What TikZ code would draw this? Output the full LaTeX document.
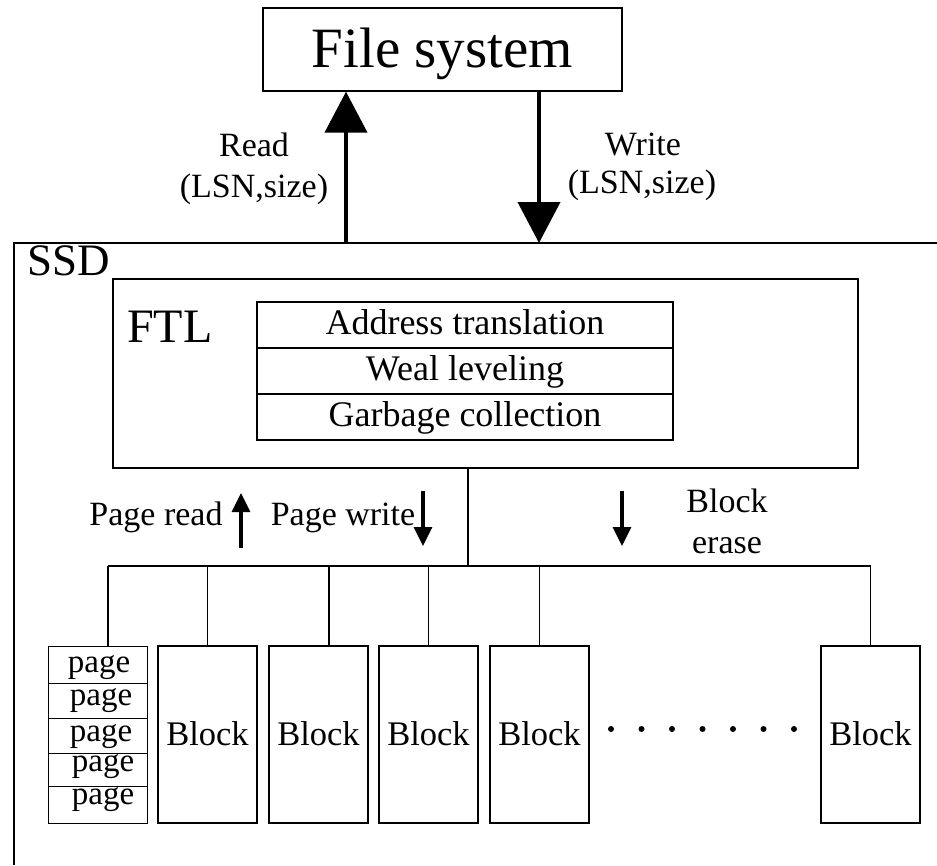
\documentclass[tikz,border=0pt]{standalone}
\usepackage{fontspec}
\setmainfont{Liberation Serif}
\usetikzlibrary{arrows.meta}
\begin{document}
\begin{tikzpicture}[x=1pt,y=-1pt,
  edge/.style={line width=1.3pt},
  box/.style={draw, line width=1.3pt, inner sep=0pt},
  lbl/.style={inner sep=0pt, anchor=base, font=\fontsize{34}{36}\selectfont},
  bigarrow/.style={line width=4pt, -{Triangle[width=42pt,length=41pt]}},
  smallarrow/.style={line width=3.2pt, -{Triangle[width=18pt,length=19pt]}},
  layer/.style={box, minimum width=416pt, minimum height=46pt,
    font=\fontsize{36}{38}\selectfont, text height=24.8pt, text depth=5pt},
  blockbox/.style={box, minimum width=99pt, minimum height=177pt,
    font=\fontsize{34.5}{36}\selectfont, text height=22pt, text depth=0pt},
  pagerow/.style={box, anchor=north west, minimum width=99pt},
  pagetext/.style={lbl, font=\fontsize{33}{35}\selectfont}
]
\useasboundingbox (0,0) rectangle (937,865);

% host side
\node[box, minimum width=359pt, minimum height=83pt,
  font=\fontsize{57}{60}\selectfont, text height=40pt, text depth=5pt]
  (fs) at (442.5,49.5) {File system};

% SSD enclosure (open to the right and bottom)
\draw[edge] (937,243) -- (14,243) -- (14,865);
\node[inner sep=0pt, anchor=base west, font=\fontsize{45}{47}\selectfont]
  (ssd) at (27,275) {SSD};

% host requests
\coordinate (rd) at (346,243);
\coordinate (wr) at (539,243);
\draw[bigarrow] (rd) -- (rd |- fs.south);
\draw[bigarrow] (wr |- fs.south) -- (wr);
\node[lbl] (rdA) at (254,156) {Read};
\node[lbl] (rdB) at (254,197) {(LSN,size)};
\node[lbl] (wrA) at (643,155) {Write};
\node[lbl] (wrB) at (642,193) {(LSN,size)};

% flash translation layer
\node[box, minimum width=745pt, minimum height=189pt] (ftl) at (485.5,373.5) {};
\node[inner sep=0pt, anchor=base west, font=\fontsize{48}{50}\selectfont]
  (ftlname) at (127,342) {FTL};
\node[layer] (t1) at (465,325) {Address translation};
\node[layer] (t2) at (465,371) {Weal leveling};
\node[layer] (t3) at (465,417) {Garbage collection};

% flash operations
\coordinate (prA) at (241,548);
\coordinate (prB) at (241,493);
\coordinate (pwA) at (423,491);
\coordinate (pwB) at (423,546);
\coordinate (beA) at (622,491);
\coordinate (beB) at (622,546);
\draw[smallarrow] (prA) -- (prB);
\draw[smallarrow] (pwA) -- (pwB);
\draw[smallarrow] (beA) -- (beB);
\node[lbl] (prd) at (156,525) {Page read};
\node[lbl] (pwr) at (343,525) {Page write};
\node[lbl] (be1) at (727,512) {Block};
\node[lbl] (be2) at (727,553) {erase};

% page-level view of the first block
\node[pagerow, minimum height=37pt] (p1) at (48,646) {};
\node[pagerow, minimum height=35pt] (p2) at (48,683) {};
\node[pagerow, minimum height=35pt] (p3) at (48,718) {};
\node[pagerow, minimum height=33pt] (p4) at (48,753) {};
\node[pagerow, minimum height=37pt] (p5) at (48,786) {};
\node[pagetext] (pt1) at (99,672) {page};
\node[pagetext] (pt2) at (101,705) {page};
\node[pagetext] (pt3) at (101,741) {page};
\node[pagetext] (pt4) at (103,771) {page};
\node[pagetext] (pt5) at (103,804) {page};

% blocks
\node[blockbox] (b1) at (207.5,734.5) {Block};
\node[blockbox] (b2) at (318.5,734.5) {Block};
\node[blockbox] (b3) at (428.5,734.5) {Block};
\node[blockbox] (b4) at (539.5,734.5) {Block};
\node[blockbox] (b5) at (870.5,734.5) {Block};
\foreach \i in {0,...,6}
  \fill (611+30.5*\i,729) circle (3pt);

% internal bus
\coordinate (hub) at (468,566);
\coordinate (busL) at (108,566);
\coordinate (busR) at (871,566);
\draw[edge] (ftl.south -| hub) -- (hub);
\draw[edge] (busL) -- (busR);
\draw[edge] (busL) -- (busL |- p1.north);
\draw[edge] (b1.north |- hub) -- (b1.north);
\draw[edge] ([xshift=10.5pt]b2.north |- hub) -- ([xshift=10.5pt]b2.north);
\draw[edge] (b3.north |- hub) -- (b3.north);
\draw[edge] (b4.north |- hub) -- (b4.north);
\draw[edge] (b5.north |- hub) -- (b5.north);
\end{tikzpicture}
\end{document}
